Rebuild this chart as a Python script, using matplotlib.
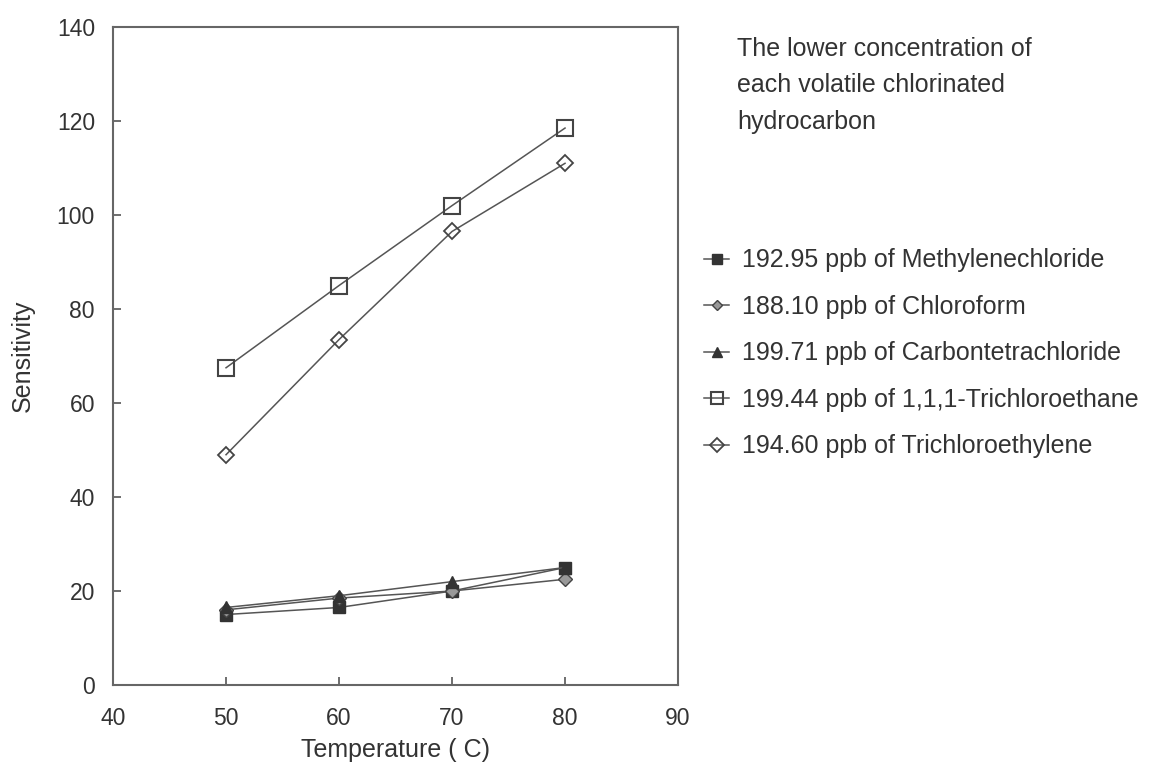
import matplotlib
matplotlib.use("Agg")
import matplotlib.pyplot as plt

plt.rcParams['font.family'] = ['Liberation Sans', 'DejaVu Sans']

temperature = [50, 60, 70, 80]
methylenechloride = [15.0, 16.5, 20.0, 25.0]
chloroform = [16.0, 18.5, 20.0, 22.5]
carbontetrachloride = [16.5, 19.0, 22.0, 25.0]
trichloroethane = [67.5, 85.0, 102.0, 118.5]
trichloroethylene = [49.0, 73.5, 96.5, 111.0]

labels = [
    "192.95 ppb of Methylenechloride",
    "188.10 ppb of Chloroform",
    "199.71 ppb of Carbontetrachloride",
    "199.44 ppb of 1,1,1-Trichloroethane",
    "194.60 ppb of Trichloroethylene",
]
x_ticks = [40, 50, 60, 70, 80, 90]
y_ticks = [0, 20, 40, 60, 80, 100, 120, 140]

fig = plt.figure(figsize=(11.63, 7.63), dpi=100)
ax = fig.add_axes([0.0972, 0.1022, 0.4858, 0.8624])

lc = '#555555'
tc = '#333333'
h1, = ax.plot(temperature, methylenechloride, color=lc, lw=1.1, marker='s', ms=9,
              mfc='#333333', mec='#333333', label=labels[0])
h2, = ax.plot(temperature, chloroform, color=lc, lw=1.1, marker='D', ms=7,
              mfc='#999999', mec='#444444', label=labels[1])
h3, = ax.plot(temperature, carbontetrachloride, color=lc, lw=1.1, marker='^', ms=9,
              mfc='#333333', mec='#333333', label=labels[2])
h4, = ax.plot(temperature, trichloroethane, color=lc, lw=1.1, marker='s', ms=11.5,
              mfc='none', mec='#444444', mew=1.5, label=labels[3])
h5, = ax.plot(temperature, trichloroethylene, color=lc, lw=1.1, marker='D', ms=8.5,
              mfc='none', mec='#444444', mew=1.3, label=labels[4])

ax.set_xlim(40, 90)
ax.set_ylim(0, 140)
ax.set_xticks(x_ticks)
ax.set_yticks(y_ticks)
ax.tick_params(direction='in', length=6, width=1.2, color='#555555',
               labelsize=16.5, labelcolor=tc, top=False, right=False)
ax.tick_params(axis='y', pad=13)
ax.tick_params(axis='x', pad=16)
for s in ax.spines.values():
    s.set_color('#666666')
    s.set_linewidth(1.5)
ax.set_xlabel("Temperature ( C)", fontsize=18, color=tc, labelpad=5.5)
ax.set_ylabel("Sensitivity", fontsize=18, color=tc, labelpad=15.5)

fig.text(0.634, 0.952, "The lower concentration of\neach volatile chlorinated\nhydrocarbon",
         fontsize=18, color=tc, va='top', ha='left', linespacing=1.67)

fig.legend(handles=[h1, h2, h3, h4, h5], loc='upper left',
           bbox_to_anchor=(0.586, 0.704), frameon=False, fontsize=18,
           handlelength=1.0, handletextpad=0.52, labelspacing=0.9,
           markerscale=0.8, labelcolor=tc)

fig.savefig("out.png", dpi=100)
